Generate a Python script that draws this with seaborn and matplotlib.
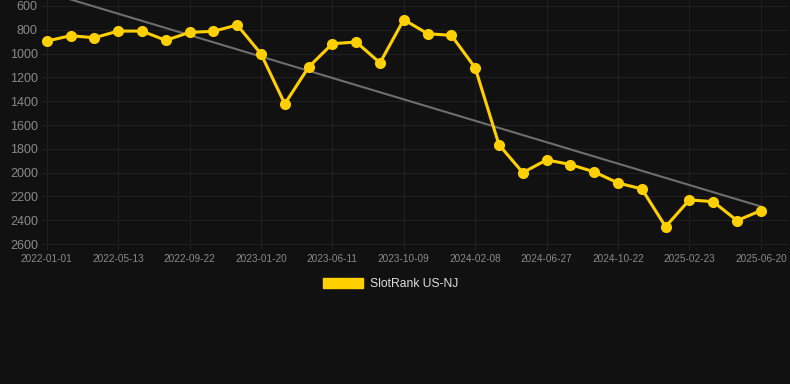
import numpy as np
import pandas as pd
import matplotlib
matplotlib.use("Agg")
import matplotlib.pyplot as plt
from matplotlib.patches import Patch
import seaborn as sns

# dates of each rank sample (only every 3rd is shown on the axis)
dates = ["2022-01-01", "2022-02-14", "2022-03-29", "2022-05-13", "2022-06-26", "2022-08-09",
         "2022-09-22", "2022-11-01", "2022-12-11", "2023-01-20", "2023-03-08", "2023-04-25",
         "2023-06-11", "2023-07-21", "2023-08-30", "2023-10-09", "2023-11-18", "2023-12-29",
         "2024-02-08", "2024-03-25", "2024-05-11", "2024-06-27", "2024-08-05", "2024-09-13",
         "2024-10-22", "2024-12-02", "2025-01-12", "2025-02-23", "2025-04-04", "2025-05-12",
         "2025-06-20"]
ranks = [895, 850, 867, 811, 811, 889, 822, 813, 760, 1002, 1423, 1114, 917, 903, 1078,
         715, 833, 847, 1120, 1766, 2000, 1893, 1932, 1994, 2087, 2137, 2454, 2229, 2244,
         2403, 2319]
y_ticks = [600, 800, 1000, 1200, 1400, 1600, 1800, 2000, 2200, 2400, 2600]

df = pd.DataFrame({"date": dates, "rank": ranks})
df["idx"] = np.arange(len(df))

bg = "#111111"
gold = "#FFD000"

sns.set_style("dark")
plt.rcParams["font.family"] = ["Liberation Sans", "DejaVu Sans"]

fig, ax = plt.subplots(figsize=(7.9, 3.84), dpi=100)
fig.patch.set_facecolor(bg)
ax.set_facecolor(bg)
fig.subplots_adjust(left=42 / 790, right=787 / 790, top=1.0, bottom=1 - 250 / 384)

# trend line
coef = np.polyfit(df["idx"], df["rank"], 1)
xs = np.array([-1, len(df) - 1])
ax.plot(xs, np.polyval(coef, xs), color="#6e6e6e", lw=1.5, zorder=2)

sns.lineplot(data=df, x="idx", y="rank", ax=ax, color=gold, lw=2.2, marker="o",
             markersize=8, markeredgewidth=0, zorder=3)

ax.set_ylim(2650, 550)
ax.set_xlim(-0.2, 31.1)
ax.set_yticks(y_ticks)
ax.set_yticklabels([str(v) for v in y_ticks], fontsize=9, color="#8a8a8a")
tick_idx = list(range(0, len(dates), 3))
ax.set_xticks(tick_idx)
ax.set_xticklabels([dates[i] for i in tick_idx], fontsize=7.2, color="#8a8a8a")
ax.tick_params(axis="both", length=0, pad=3)
ax.grid(True, color="#202020", lw=0.8)
for s in ax.spines.values():
    s.set_visible(False)
ax.set_xlabel("")
ax.set_ylabel("")

handle = Patch(facecolor=gold, edgecolor=gold)
fig.legend([handle], ["SlotRank US-NJ"], loc="center", bbox_to_anchor=(0.4945, 1 - 284 / 384),
           frameon=False, fontsize=8.7, labelcolor="#dddddd", handlelength=3.3,
           handleheight=0.9, handletextpad=0.6)

fig.savefig("out.png", dpi=100, facecolor=bg)
